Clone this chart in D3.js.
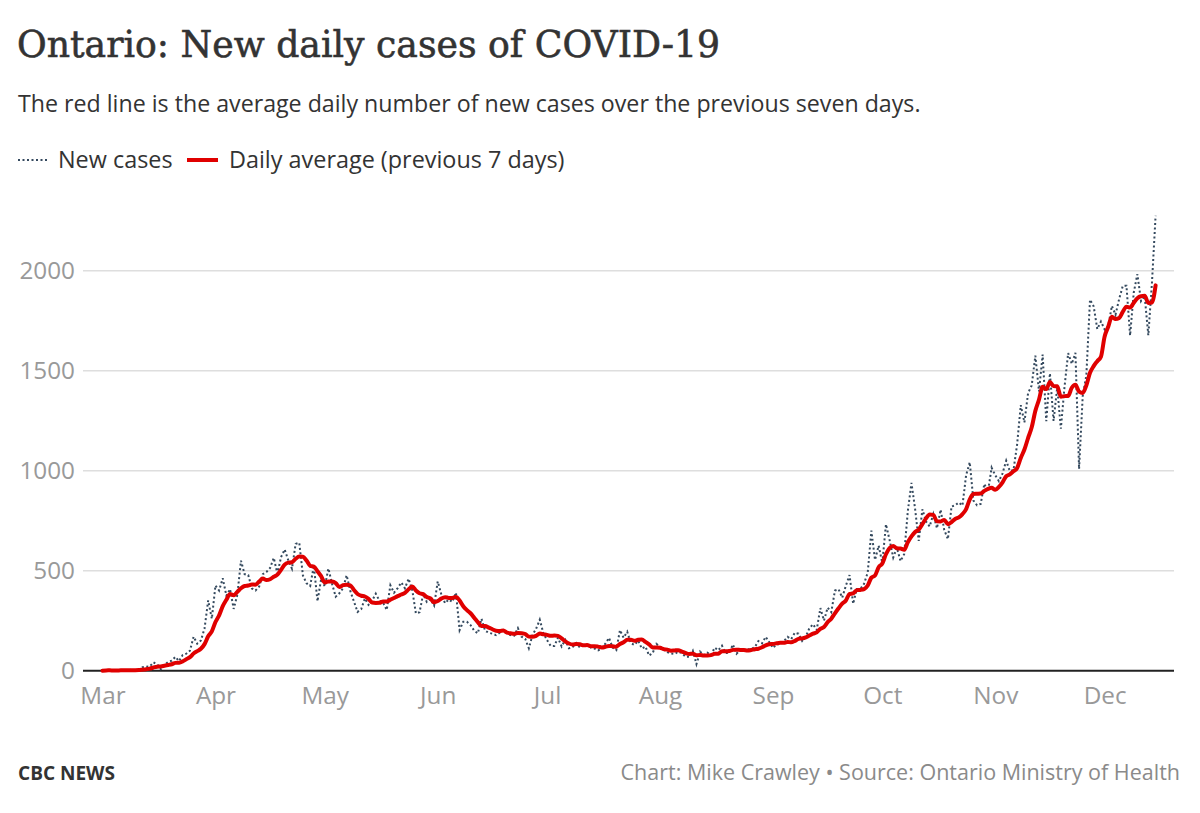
<!DOCTYPE html>
<html>
<head>
<meta charset="utf-8">
<script src="https://cdn.jsdelivr.net/npm/d3@7"></script>
<style>
  html, body { margin: 0; padding: 0; background: #fff; }
  svg { display: block; }
</style>
</head>
<body>
<svg id="chart" width="1200" height="813"></svg>
<script>
// ---------- DATA (new daily cases, Ontario 2020) ----------
const startDate = "2020-03-01";
const casesMar = [0,3,2,0,2,4,2,1,5,2,5,18,20,22,42,32,8,29,44,50,69,48,78,85,100,170,135,151,211,351,260];
const casesApr = [426,401,462,375,408,309,379,550,483,478,411,401,421,483,494,514,564,485,568,606,551,510,634,640,476,437,424,525,347,459];
const casesMay = [421,511,434,370,387,412,477,399,346,294,308,361,329,350,385,350,340,304,427,390,413,441,412,460,404,287,292,383,344,358,326];
const casesJun = [446,380,338,356,344,390,203,245,245,228,200,187,260,200,190,185,178,190,203,185,178,175,213,170,160,112,178,210,255,187];
const casesJul = [153,124,124,165,121,154,112,118,138,116,130,129,116,111,102,111,135,164,116,103,203,165,195,137,129,150,111,121,76,89,134];
const casesAug = [120,104,93,86,84,95,88,70,70,100,33,95,78,90,79,115,102,125,88,89,131,85,105,99,107,108,118,148,137,169,142];
const casesSep = [114,132,132,148,169,158,190,185,149,170,213,232,204,313,251,315,293,401,407,365,425,478,335,409,409,435,491,700,554,625];
const casesOct = [538,732,653,566,615,548,583,797,939,809,649,807,746,721,783,712,805,704,658,821,827,841,826,978,1042,851,827,834,934,896,1015];
const casesNov = [977,948,987,1050,998,1003,1132,1328,1242,1388,1426,1575,1396,1581,1248,1487,1249,1417,1210,1418,1588,1534,1589,1009,1373,1478,1855,1822,1708,1746];
const casesDec = [1707,1723,1824,1780,1859,1924,1925,1676,1890,1983,1848,1873,1677,1940,2275];

const monthTicks = ["2020-03-01","2020-04-01","2020-05-01","2020-06-01","2020-07-01","2020-08-01","2020-09-01","2020-10-01","2020-11-01","2020-12-01"];
const yTicks = [0, 500, 1000, 1500, 2000];

const titleText = "Ontario: New daily cases of COVID-19";
const subtitleText = "The red line is the average daily number of new cases over the previous seven days.";
const legendLabels = ["New cases", "Daily average (previous 7 days)"];
const creditLeft = "CBC NEWS";
const creditRight = "Chart: Mike Crawley \u2022 Source: Ontario Ministry of Health";

// ---------- BUILD SERIES ----------
const allCases = [].concat(casesMar, casesApr, casesMay, casesJun, casesJul, casesAug, casesSep, casesOct, casesNov, casesDec);
const t0 = d3.utcParse("%Y-%m-%d")(startDate);
const daily = allCases.map((v, i) => ({ date: d3.utcDay.offset(t0, i), value: v }));
// 7-day trailing average (the chart's definition of the red line)
const avg = daily.map((d, i) => ({
  date: d.date,
  value: d3.mean(allCases.slice(Math.max(0, i - 6), i + 1))
}));

// ---------- LAYOUT ----------
const svg = d3.select("#chart");
const plotLeft = 83, plotRight = 1174;
const x = d3.scaleUtc()
  .domain([t0, daily[daily.length - 1].date])
  .range([102.5, 1155.6]);
const y = d3.scaleLinear().domain([0, 2000]).range([670.7, 270.7]);

const sans = "'Open Sans', 'Noto Sans', sans-serif";

// Title
svg.append("text")
  .attr("x", 17).attr("y", 57)
  .attr("font-family", "'DejaVu Serif', 'Liberation Serif', serif")
  .attr("font-size", 38)
  .attr("fill", "#333")
  .attr("stroke", "#333")
  .attr("stroke-width", 0.6)
  .attr("textLength", 703)
  .attr("lengthAdjust", "spacingAndGlyphs")
  .text(titleText);

// Subtitle
svg.append("text")
  .attr("x", 18).attr("y", 112)
  .attr("font-family", sans)
  .attr("font-size", 23.2)
  .attr("fill", "#333")
  .text(subtitleText);

// Legend
const leg = svg.append("g").attr("font-family", sans).attr("font-size", 23.4).attr("fill", "#333");
leg.append("line").attr("x1", 18).attr("x2", 47).attr("y1", 160).attr("y2", 160)
  .attr("stroke", "#34495e").attr("stroke-width", 2).attr("stroke-dasharray", "2,2.5");
leg.append("text").attr("x", 58).attr("y", 168).text(legendLabels[0]);
leg.append("line").attr("x1", 187).attr("x2", 218).attr("y1", 160).attr("y2", 160)
  .attr("stroke", "#e00000").attr("stroke-width", 4);
leg.append("text").attr("x", 229).attr("y", 168).text(legendLabels[1]);

// Gridlines
svg.append("g").selectAll("line")
  .data(yTicks.filter(d => d > 0))
  .join("line")
  .attr("x1", plotLeft).attr("x2", plotRight)
  .attr("y1", d => y(d)).attr("y2", d => y(d))
  .attr("stroke", "#dedede").attr("stroke-width", 1.5);

// Y axis labels
const yAxis = svg.append("g")
  .attr("transform", `translate(${plotLeft - 8},0)`)
  .call(d3.axisLeft(y).tickValues(yTicks).tickSize(0).tickPadding(0).tickFormat(d3.format("d")));
yAxis.select(".domain").remove();
yAxis.selectAll("text")
  .attr("font-family", sans).attr("font-size", 24.3).attr("fill", "#999");

// X axis
const xAxis = svg.append("g")
  .attr("transform", `translate(0,${y(0)})`)
  .call(d3.axisBottom(x)
    .tickValues(monthTicks.map(d3.utcParse("%Y-%m-%d")))
    .tickFormat(d3.utcFormat("%b"))
    .tickSize(0).tickPadding(16));
xAxis.select(".domain").remove();
xAxis.selectAll("text")
  .attr("font-family", sans).attr("font-size", 24.3).attr("fill", "#999");

// Baseline
svg.append("line")
  .attr("x1", plotLeft).attr("x2", plotRight)
  .attr("y1", y(0)).attr("y2", y(0))
  .attr("stroke", "#222").attr("stroke-width", 2);

// Lines
const lineGen = d3.line().x(d => x(d.date)).y(d => y(d.value));
svg.append("path")
  .datum(daily)
  .attr("d", lineGen)
  .attr("fill", "none")
  .attr("stroke", "#34495e")
  .attr("stroke-width", 2)
  .attr("stroke-dasharray", "2,2.5");
svg.append("path")
  .datum(avg)
  .attr("d", lineGen.curve(d3.curveMonotoneX))
  .attr("fill", "none")
  .attr("stroke", "#e00000")
  .attr("stroke-width", 4)
  .attr("stroke-linejoin", "round")
  .attr("stroke-linecap", "round");

// Footer
svg.append("text")
  .attr("x", 18).attr("y", 780)
  .attr("font-family", "'Liberation Sans Narrow', 'Open Sans', sans-serif")
  .attr("font-weight", "bold")
  .attr("font-size", 19)
  .attr("fill", "#333")
  .attr("textLength", 97)
  .attr("lengthAdjust", "spacingAndGlyphs")
  .text(creditLeft);
svg.append("text")
  .attr("x", 1180).attr("y", 780)
  .attr("text-anchor", "end")
  .attr("font-family", sans)
  .attr("font-size", 21.5)
  .attr("fill", "#8a8a8a")
  .text(creditRight);
</script>
</body>
</html>
